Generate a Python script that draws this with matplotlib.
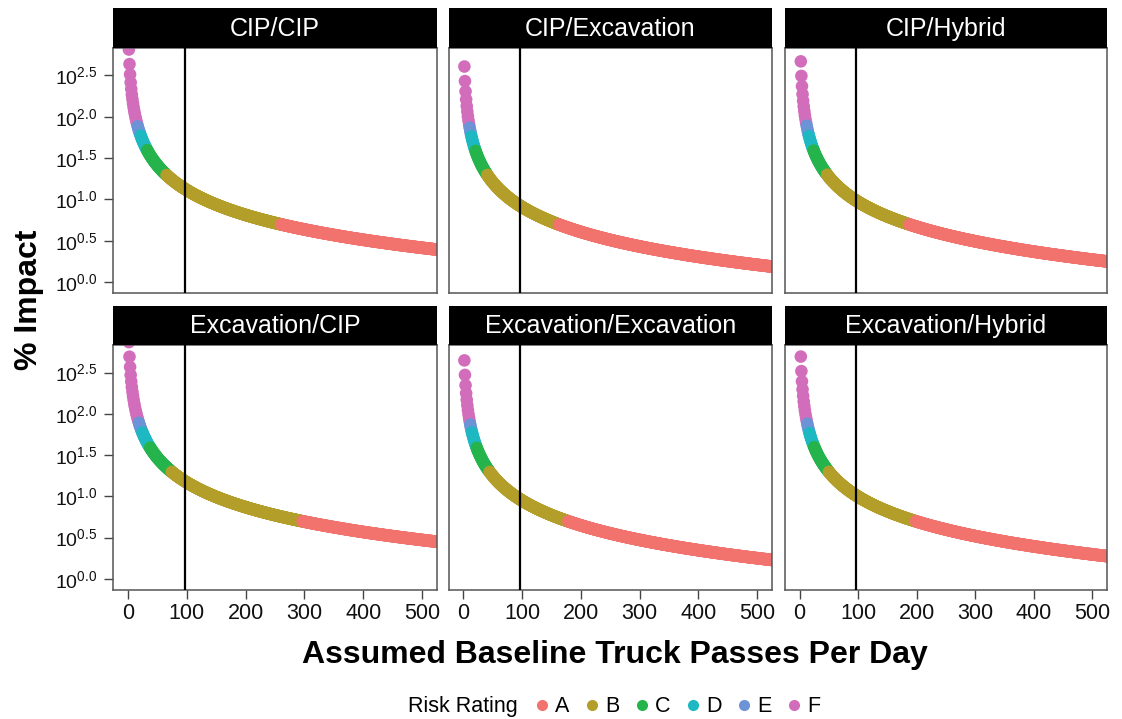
import numpy as np
import matplotlib
matplotlib.use("Agg")
import matplotlib.pyplot as plt
from matplotlib.lines import Line2D

plt.rcParams["font.family"] = ["Liberation Sans", "DejaVu Sans"]
plt.rcParams["mathtext.fontset"] = "custom"
plt.rcParams["mathtext.rm"] = "Liberation Sans"
plt.rcParams["mathtext.it"] = "Liberation Sans:italic"
plt.rcParams["mathtext.bf"] = "Liberation Sans:bold"

# facet panels (construction method pairs) and added trucks per day
panels = ["CIP/CIP", "CIP/Excavation", "CIP/Hybrid",
          "Excavation/CIP", "Excavation/Excavation", "Excavation/Hybrid"]
added_trucks = [13.0, 8.1, 9.35, 14.8, 8.9, 9.9]

# assumed baseline truck passes per day (integer steps)
baseline_passes = np.arange(1, 531)
ref_passes = 97  # vertical reference line

# risk rating bins on % impact
ratings = ["A", "B", "C", "D", "E", "F"]
rating_breaks = [5, 20, 40, 60, 80]
rating_colors = ["#F2736E", "#B49E2A", "#25B44C", "#1EB8C3", "#6B93D6", "#D26DBB"]

y_tick_exp = [0.0, 0.5, 1.0, 1.5, 2.0, 2.5]
x_ticks = [0, 100, 200, 300, 400, 500]

W, H = 1122, 719
fig = plt.figure(figsize=(W / 100, H / 100), dpi=100)
fig.patch.set_facecolor("white")

col_x = [(113, 437), (448.5, 772), (785, 1107)]
row_y = [(47.7, 293.3), (345, 590)]
strip_h = 39.4
border = "#555555"

for i, name in enumerate(panels):
    r, c = divmod(i, 3)
    x0, x1 = col_x[c]
    y0, y1 = row_y[r]
    ax = fig.add_axes([x0 / W, 1 - y1 / H, (x1 - x0) / W, (y1 - y0) / H])

    pct = 100 * added_trucks[i] / baseline_passes
    idx = np.digitize(pct, rating_breaks)
    cols = [rating_colors[k] for k in idx]
    ax.scatter(baseline_passes, pct, c=cols, s=82, linewidths=0, zorder=2)
    ax.axvline(ref_passes, color="black", lw=1.6, zorder=3)

    ax.set_yscale("log")
    ax.set_xlim(-25, 525)
    ax.set_ylim(10 ** -0.135, 10 ** 2.835)
    ax.minorticks_off()
    ax.set_yticks([10 ** e for e in y_tick_exp])
    ax.set_xticks(x_ticks)
    for sp in ax.spines.values():
        sp.set_color(border)
        sp.set_linewidth(1.1)

    ax.tick_params(length=6.5, width=1, color="#444444", labelcolor="#111111")
    ax.tick_params(axis="x", labelsize=15.5, pad=3)
    ax.tick_params(axis="y", labelsize=14, pad=5)
    if c == 0:
        ax.set_yticklabels([r"$10^{%.1f}$" % e for e in y_tick_exp])
    else:
        ax.tick_params(axis="y", left=False, labelleft=False)
    if r == 1:
        ax.set_xticklabels([str(t) for t in x_ticks])
    else:
        ax.tick_params(axis="x", bottom=False, labelbottom=False)

    sax = fig.add_axes([x0 / W, 1 - y0 / H, (x1 - x0) / W, strip_h / H])
    sax.set_facecolor("black")
    sax.set_xticks([])
    sax.set_yticks([])
    for sp in sax.spines.values():
        sp.set_visible(False)
    sax.text(0.5, 0.47, name, color="white", fontsize=18, ha="center", va="center",
             transform=sax.transAxes)

fig.text(615 / W, 1 - 663 / H, "Assumed Baseline Truck Passes Per Day",
         fontsize=23, fontweight="bold", ha="center", va="baseline")
fig.text(29 / W, 1 - 300 / H, "% Impact", fontsize=23, fontweight="bold",
         rotation=90, ha="center", va="center")

fig.text(408 / W, 1 - 706.7 / H, "Risk Rating", fontsize=15.5, ha="left", va="center")
handles = [Line2D([], [], marker="o", ls="", markersize=8, markerfacecolor=col,
                  markeredgewidth=0) for col in rating_colors]
fig.legend(handles, ratings, loc="center left", bbox_to_anchor=(536 / W, 1 - 706.7 / H),
           ncol=6, frameon=False, fontsize=15.5, handlelength=0.6, handletextpad=0.3,
           columnspacing=0.75, borderpad=0, borderaxespad=0)

fig.savefig("out.png", dpi=100)
